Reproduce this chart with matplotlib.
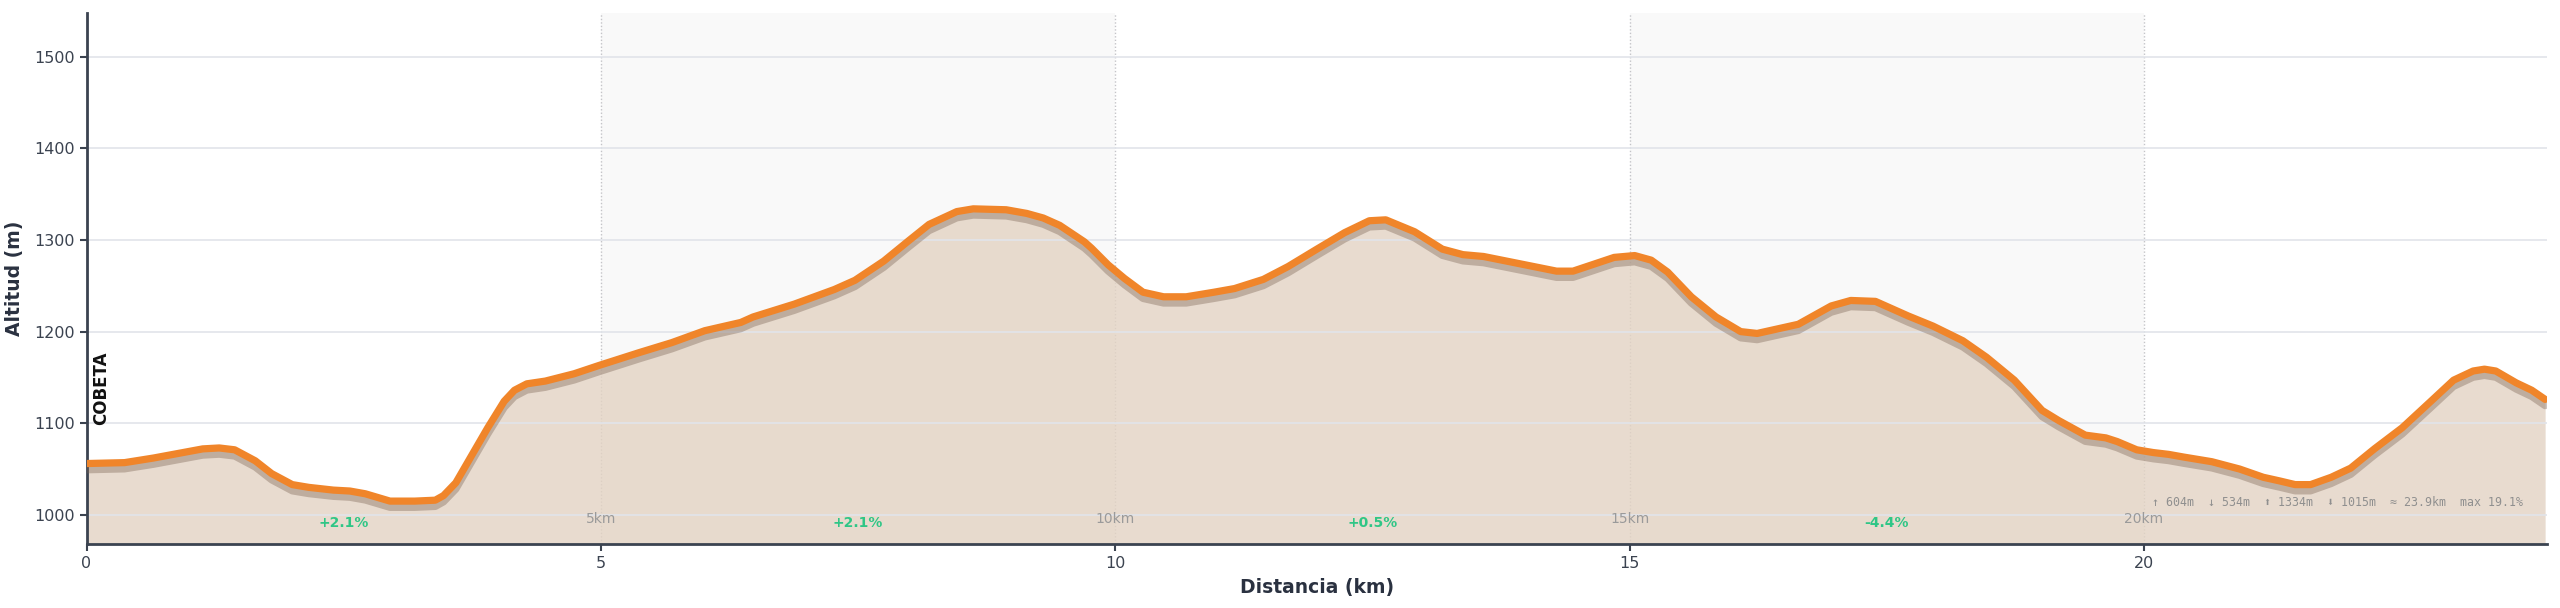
import matplotlib
matplotlib.use("Agg")
import matplotlib.pyplot as plt
import matplotlib.patheffects as pe
import numpy as np

# ---- data ----
dist_km = [0.00, 0.37, 0.65, 0.89, 1.13, 1.29, 1.44, 1.64, 1.80, 2.00, 2.16, 2.40, 2.56, 2.71,
           2.95, 3.19, 3.39, 3.47, 3.59, 3.75, 3.90, 4.06, 4.16, 4.28, 4.46, 4.74, 4.98, 5.37,
           5.69, 6.01, 6.36, 6.48, 6.88, 7.27, 7.47, 7.75, 7.99, 8.19, 8.46, 8.62, 8.94, 9.14,
           9.30, 9.46, 9.70, 9.77, 9.93, 10.09, 10.27, 10.47, 10.69, 10.96, 11.16, 11.44, 11.68,
           11.96, 12.23, 12.47, 12.63, 12.91, 13.18, 13.38, 13.58, 13.98, 14.29, 14.45, 14.69,
           14.85, 15.05, 15.21, 15.37, 15.60, 15.84, 16.08, 16.24, 16.64, 16.96, 17.15, 17.39,
           17.71, 17.95, 18.24, 18.47, 18.74, 19.01, 19.17, 19.43, 19.63, 19.74, 19.93, 20.09,
           20.24, 20.39, 20.66, 20.93, 21.16, 21.32, 21.47, 21.62, 21.82, 22.01, 22.24, 22.51,
           22.78, 23.01, 23.20, 23.31, 23.42, 23.62, 23.77, 23.90]
elev_m = [1056, 1057, 1062, 1067, 1072, 1073, 1071, 1059, 1045, 1033, 1030, 1027, 1026, 1023,
          1015, 1015, 1016, 1021, 1035, 1066, 1095, 1124, 1136, 1143, 1146, 1154, 1163, 1177,
          1188, 1201, 1210, 1216, 1230, 1246, 1256, 1277, 1299, 1317, 1331, 1334, 1333, 1329,
          1324, 1316, 1298, 1291, 1273, 1258, 1243, 1238, 1238, 1243, 1247, 1257, 1271,
          1290, 1308, 1321, 1322, 1309, 1290, 1284, 1282, 1273, 1266, 1266, 1275,
          1281, 1283, 1278, 1265, 1238, 1216, 1200, 1198, 1208, 1228, 1234, 1233,
          1217, 1206, 1190, 1172, 1147, 1114, 1103, 1087, 1084, 1080, 1071, 1068,
          1066, 1063, 1058, 1050, 1041, 1037, 1033, 1033, 1041, 1051, 1072, 1095,
          1123, 1147, 1157, 1159, 1157, 1144, 1136, 1126]

band_starts = [5, 10, 15, 20]
km_marks = [5, 10, 15, 20]
km_mark_labels = ["5km", "10km", "15km", "20km"]
grade_pos_km = [2.5, 7.5, 12.5, 17.5]
grade_labels = ["+2.1%", "+2.1%", "+0.5%", "-4.4%"]
stats_text = "\u2191 604m  \u2193 534m  \u2B06 1334m  \u2B07 1015m  \u2248 23.9km  max 19.1%"
start_name = "COBETA"
y_ticks = [1000, 1100, 1200, 1300, 1400, 1500]
x_ticks = [0, 5, 10, 15, 20]

x = np.array(dist_km)
y = np.array(elev_m)

fig = plt.figure(figsize=(25.6, 6.08), dpi=100)
ax = fig.add_axes([0.0338, 0.105, 0.9612, 0.874])
ymin, ymax = 968, 1548
ax.set_xlim(0, 23.92)
ax.set_ylim(ymin, ymax)

# alternating bands
for i, s in enumerate(band_starts):
    if i % 2 == 0:
        ax.axvspan(s, band_starts[i + 1], color="#f9f9f9", zorder=0, lw=0)

ax.set_yticks(y_ticks)
ax.set_xticks(x_ticks)
ax.grid(axis="y", color="#e1e4ea", lw=1.2, zorder=0.5)
ax.grid(axis="x", visible=False)

for k in km_marks:
    ax.axvline(k, color="#c4c4c8", lw=1.0, ls=(0, (1, 1.5)), zorder=0.6)

ax.fill_between(x, y, ymin, color="#e3d3c3", alpha=0.8, lw=0, zorder=1)
ax.plot(x, y, color="#f0852a", lw=5.2, zorder=3, solid_capstyle="round",
        path_effects=[pe.SimpleLineShadow(offset=(0, -4.5), shadow_color="#7a6252", alpha=0.38),
                      pe.Normal()])

for k, lab in zip(km_marks, km_mark_labels):
    ax.text(k, 996, lab, ha="center", va="center", fontsize=10, color="#9a9a9a", zorder=4)

for k, lab in zip(grade_pos_km, grade_labels):
    ax.text(k, 991, lab, ha="center", va="center", fontsize=10, color="#2fc686",
            fontweight="bold", zorder=4)

ax.text(23.68, 1014, stats_text, ha="right", va="center", fontsize=8.4, color="#8f8f8f",
        family=["DejaVu Sans Mono", "DejaVu Sans"], zorder=4)

ax.text(0.14, 1098, start_name, rotation=90, ha="center", va="bottom", fontsize=12,
        fontweight="bold", color="#111111", zorder=4)

for sp in ["top", "right"]:
    ax.spines[sp].set_visible(False)
for sp in ["left", "bottom"]:
    ax.spines[sp].set_color("#3b4350")
    ax.spines[sp].set_linewidth(2)
ax.tick_params(axis="both", colors="#3b4350", labelsize=11.5, length=5, width=1.5)

ax.set_ylabel("Altitud (m)", fontsize=13.5, fontweight="bold", color="#2a3140", labelpad=7)
ax.set_xlabel("Distancia (km)", fontsize=13.5, fontweight="bold", color="#2a3140", labelpad=5)

fig.savefig("out.png", dpi=100)
